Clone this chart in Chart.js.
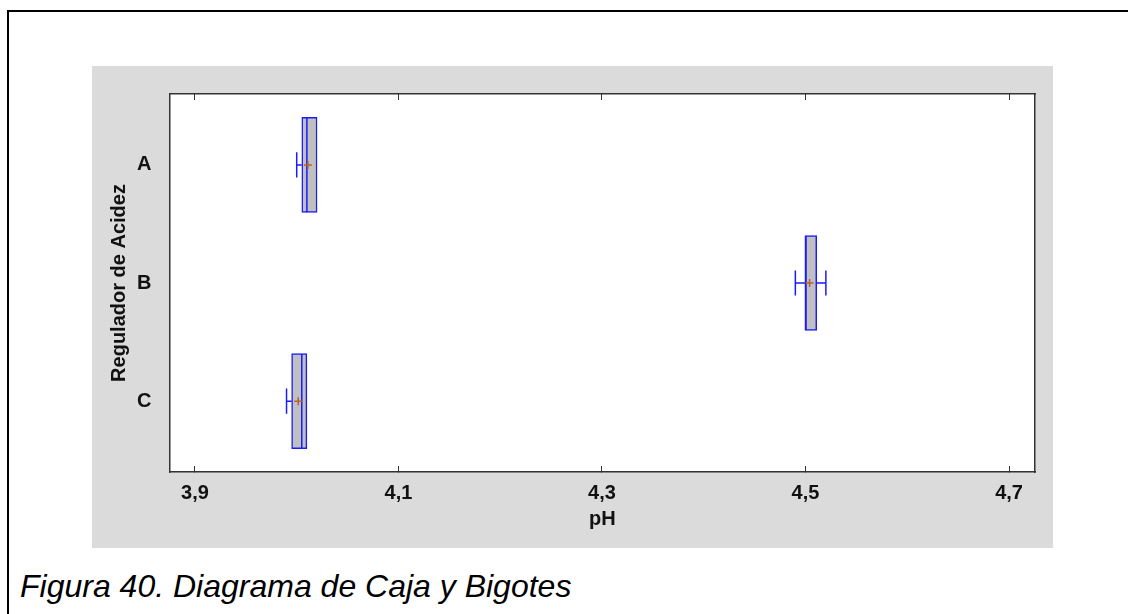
<!DOCTYPE html>
<html>
<head>
<meta charset="utf-8">
<script src="https://cdn.jsdelivr.net/npm/chart.js@4"></script>
<style>
  html, body { margin: 0; padding: 0; width: 1128px; height: 614px; overflow: hidden; background: #fff; }
  #frame { position: absolute; left: 7px; top: 10px; width: 1300px; height: 800px; border-left: 2px solid #000; border-top: 2px solid #000; }
  #panel { position: absolute; left: 92px; top: 66px; width: 961px; height: 482px; background: #dbdbdb; }
  #caption { position: absolute; left: 20px; top: 568px; font: italic 32px 'Liberation Sans', Arial, sans-serif; line-height: 36px; color: #000; white-space: nowrap; }
</style>
</head>
<body>
<div id="frame"></div>
<div id="panel"><canvas id="c"></canvas></div>
<div id="caption">Figura 40. Diagrama de Caja y Bigotes</div>
<script>
// ---- data ----
const categories = ['A', 'B', 'C'];
const minVals    = [4.000, 4.490, 3.990];
const q1Vals     = [4.005, 4.500, 3.995];
const medianVals = [4.010, 4.500, 4.005];
const q3Vals     = [4.020, 4.511, 4.010];
const maxVals    = [4.020, 4.520, 4.010];
const meanVals   = [4.011, 4.504, 4.0015];
const xTickValues = [3.9, 4.1, 4.3, 4.5, 4.7];
const xTickLabels = ['3,9', '4,1', '4,3', '4,5', '4,7'];
const xTitle = 'pH';
const yTitle = 'Regulador de Acidez';

// ---- styles ----
const FONT = "'Liberation Sans', Arial, sans-serif";
const BLUE = '#1a1aff';
const AXIS = '#333333';
const XMIN = 3.875, XMAX = 4.7255;
const YMIN = -0.6, YMAX = 2.6;
const CAP = 0.106, MED = 0.4;

const datasets = [];
// boxes
datasets.push({
  type: 'bar',
  data: categories.map((c, i) => ({ x: [q1Vals[i], q3Vals[i]], y: i })),
  backgroundColor: '#c0c0c0',
  borderColor: BLUE,
  borderWidth: 1.5,
  borderSkipped: false,
  barThickness: 95,
  grouped: false,
  order: 2
});
function seg(points) {
  return {
    type: 'scatter', indexAxis: 'x', showLine: true, data: points,
    borderColor: BLUE, borderWidth: 1.5, pointRadius: 0, fill: false, order: 1
  };
}
categories.forEach((c, i) => {
  // median
  datasets.push(seg([{ x: medianVals[i], y: i - MED }, { x: medianVals[i], y: i + MED }]));
  // lower whisker and cap
  if (minVals[i] < q1Vals[i]) {
    datasets.push(seg([{ x: minVals[i], y: i }, { x: q1Vals[i], y: i }]));
    datasets.push(seg([{ x: minVals[i], y: i - CAP }, { x: minVals[i], y: i + CAP }]));
  }
  // upper whisker and cap
  if (maxVals[i] > q3Vals[i]) {
    datasets.push(seg([{ x: q3Vals[i], y: i }, { x: maxVals[i], y: i }]));
    datasets.push(seg([{ x: maxVals[i], y: i - CAP }, { x: maxVals[i], y: i + CAP }]));
  }
});
// means
datasets.push({
  type: 'scatter', indexAxis: 'x',
  data: categories.map((c, i) => ({ x: meanVals[i], y: i })),
  pointStyle: 'cross', pointRadius: 4, borderColor: '#b4642d', backgroundColor: '#b4642d',
  pointBorderWidth: 1.5, order: 0
});

const setXTicks = s => { s.ticks = xTickValues.map(v => ({ value: v })); };
const tickFont = { family: FONT, size: 20, weight: 'bold' };

const plotBackground = {
  id: 'plotBackground',
  beforeDraw(chart) {
    const { ctx, chartArea: a } = chart;
    ctx.save();
    ctx.fillStyle = '#ffffff';
    ctx.fillRect(a.left, a.top, a.right - a.left, a.bottom - a.top);
    ctx.restore();
  }
};

new Chart(document.getElementById('c'), {
  type: 'bar',
  data: { labels: categories, datasets },
  plugins: [plotBackground],
  options: {
    indexAxis: 'y',
    responsive: true,
    maintainAspectRatio: false,
    animation: false,
    events: [],
    layout: { padding: { left: 0, top: 28, right: 18, bottom: 0 } },
    plugins: { legend: { display: false }, tooltip: { enabled: false } },
    scales: {
      x: {
        type: 'linear', position: 'bottom', min: XMIN, max: XMAX, offset: false,
        afterBuildTicks: setXTicks,
        afterFit: s => { s.height = 76; },
        ticks: {
          color: '#111', font: tickFont, padding: 15, maxRotation: 0, autoSkip: false,
          callback: (v) => { const k = xTickValues.findIndex(t => Math.abs(t - v) < 1e-9); return k >= 0 ? xTickLabels[k] : ''; }
        },
        grid: { offset: false, drawOnChartArea: false, drawTicks: true, tickLength: -6, color: AXIS, lineWidth: 1 },
        border: { display: true, color: AXIS, width: 1.5 },
        title: { display: true, text: xTitle, color: '#111', font: tickFont, padding: { top: 17, bottom: 17 } }
      },
      x2: {
        type: 'linear', position: 'top', min: XMIN, max: XMAX, offset: false,
        afterBuildTicks: setXTicks,
        afterFit: s => { s.height = 0; },
        ticks: { display: false },
        grid: { offset: false, drawOnChartArea: false, drawTicks: true, tickLength: -6, color: AXIS, lineWidth: 1 },
        border: { display: true, color: AXIS, width: 1.5 }
      },
      y: {
        type: 'linear', position: 'left', min: YMIN, max: YMAX, reverse: true, offset: false,
        afterBuildTicks: s => { s.ticks = categories.map((c, i) => ({ value: i })); },
        afterFit: s => { s.width = 77.5; },
        ticks: {
          color: '#111', font: tickFont, padding: 10, autoSkip: false,
          callback: (v) => categories[Math.round(v)] ?? ''
        },
        grid: { display: false, offset: false },
        border: { display: true, color: AXIS, width: 1.5 },
        title: { display: true, text: yTitle, color: '#111', font: tickFont, padding: { top: 15, bottom: 15 } }
      },
      y2: {
        type: 'linear', position: 'right', min: YMIN, max: YMAX, offset: false,
        afterFit: s => { s.width = 0; },
        ticks: { display: false },
        grid: { display: false },
        border: { display: true, color: AXIS, width: 1.5 }
      }
    }
  }
});
</script>
</body>
</html>
